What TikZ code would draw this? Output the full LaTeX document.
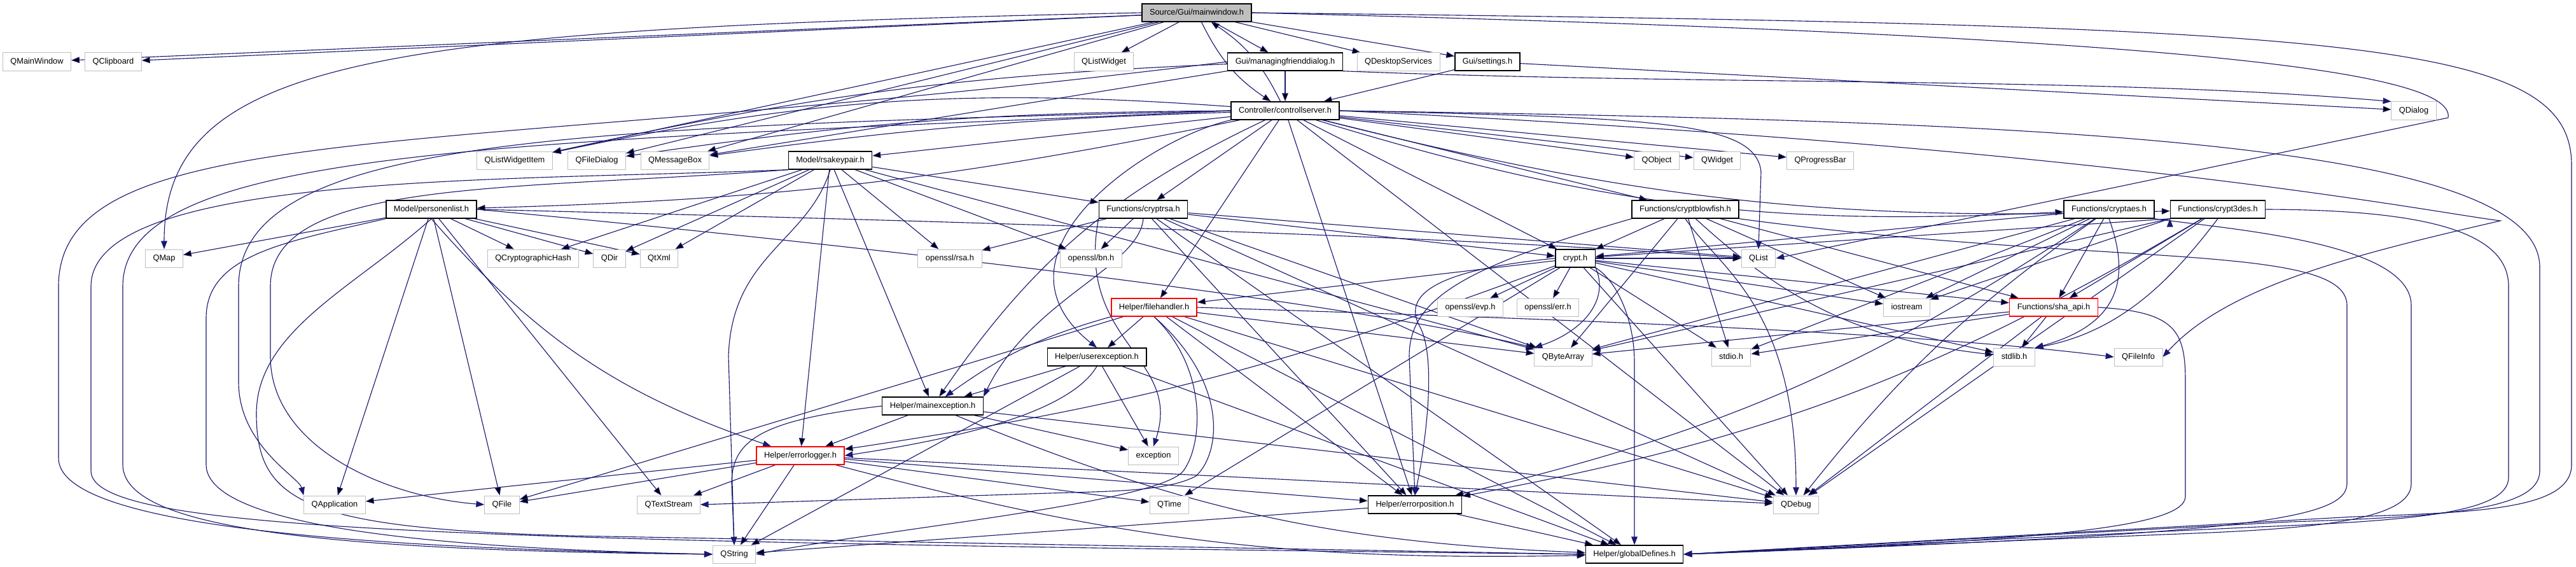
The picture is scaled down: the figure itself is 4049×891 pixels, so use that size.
\documentclass[tikz,border=0pt]{standalone}
\usepackage{fontspec}
\setmainfont{Liberation Sans}
\usepackage{xcolor}
\definecolor{edgeblue}{HTML}{191970}
\definecolor{extgrey}{HTML}{BFBFBF}
\definecolor{truncred}{HTML}{FF0000}
\usetikzlibrary{arrows.meta, backgrounds}

\begin{document}
\begin{tikzpicture}[
        x=0.025cm, y=-0.025cm,
        font=\fontsize{9.1}{11}\selectfont,
        file_node/.style={
            rectangle,
            draw=black,
            line width=1pt,
            fill=white,
            inner xsep=0.3cm,
            inner ysep=0pt,
            text height=0.24cm,
            text depth=0.07cm,
            minimum height=0.7cm
        },
        ext_node/.style={file_node, draw=extgrey, line width=0.7pt},
        trunc_node/.style={file_node, draw=truncred},
        root_node/.style={file_node, fill=extgrey},
        inc_arrow/.style={
            -{Triangle[length=0.32cm, width=0.24cm]},
            draw=edgeblue,
            line width=0.8pt
        }
    ]
    \useasboundingbox (0,0) rectangle (4049,891);

    % Root
    \node[root_node] (mainw) at (1881,20) {Source/Gui/mainwindow.h};

    % GUI level
    \node[ext_node] (qmainwin) at (58,97) {QMainWindow};
    \node[ext_node] (qclip) at (178,97) {QClipboard};
    \node[ext_node] (qlistw) at (1735,97) {QListWidget};
    \node[file_node] (friend) at (2020,97) {Gui/managingfrienddialog.h};
    \node[ext_node] (qdesk) at (2198,97) {QDesktopServices};
    \node[file_node] (settings) at (2338,97) {Gui/settings.h};
    \node[file_node] (ctrl) at (2020,174) {Controller/controllserver.h};
    \node[ext_node] (qdialog) at (3794,174) {QDialog};

    % Qt widgets and models
    \node[ext_node] (qlwitem) at (809,252) {QListWidgetItem};
    \node[ext_node] (qfiledlg) at (938,252) {QFileDialog};
    \node[ext_node] (qmsgbox) at (1061,252) {QMessageBox};
    \node[file_node] (rsakey) at (1305,252) {Model/rsakeypair.h};
    \node[ext_node] (qobject) at (2604,252) {QObject};
    \node[ext_node] (qwidget) at (2699,252) {QWidget};
    \node[ext_node] (qprogbar) at (2861,252) {QProgressBar};

    % Functions
    \node[file_node] (personen) at (678,329) {Model/personenlist.h};
    \node[file_node] (cryptrsa) at (1797,329) {Functions/cryptrsa.h};
    \node[file_node] (blowfish) at (2649,329) {Functions/cryptblowfish.h};
    \node[file_node] (cryptaes) at (3315,329) {Functions/cryptaes.h};
    \node[file_node] (crypt3des) at (3486,329) {Functions/crypt3des.h};

    \node[ext_node] (qmap) at (258,406) {QMap};
    \node[ext_node] (qcrypthash) at (838,406) {QCryptographicHash};
    \node[ext_node] (qdir) at (958,406) {QDir};
    \node[ext_node] (qtxml) at (1036,406) {QtXml};
    \node[ext_node] (rsah) at (1493,406) {openssl/rsa.h};
    \node[ext_node] (bnh) at (1715,406) {openssl/bn.h};
    \node[file_node] (crypth) at (2476,406) {crypt.h};
    \node[ext_node] (qlist) at (2764,406) {QList};

    \node[trunc_node] (filehandler) at (1814,483) {Helper/filehandler.h};
    \node[ext_node] (evph) at (2311,483) {openssl/evp.h};
    \node[ext_node] (errh) at (2433,483) {openssl/err.h};
    \node[ext_node] (iostream) at (2997,483) {iostream};
    \node[trunc_node] (shaapi) at (3228,483) {Functions/sha\_api.h};

    % Helpers
    \node[file_node] (userexc) at (1724,561) {Helper/userexception.h};
    \node[ext_node] (qbytearray) at (2457,561) {QByteArray};
    \node[ext_node] (stdioh) at (2721,561) {stdio.h};
    \node[ext_node] (stdlibh) at (3166,561) {stdlib.h};
    \node[ext_node] (qfileinfo) at (3361,561) {QFileInfo};
    \node[file_node] (mainexc) at (1466,638) {Helper/mainexception.h};
    \node[trunc_node] (errlog) at (1258,716) {Helper/errorlogger.h};
    \node[ext_node] (exception) at (1813,716) {exception};
    \node[ext_node] (qapplication) at (526,793) {QApplication};
    \node[ext_node] (qfile) at (789,793) {QFile};
    \node[ext_node] (qtextstream) at (1051,793) {QTextStream};
    \node[ext_node] (qtime) at (1838,793) {QTime};
    \node[file_node] (errpos) at (2224,793) {Helper/errorposition.h};
    \node[ext_node] (qdebug) at (2823,793) {QDebug};
    \node[ext_node] (qstring) at (1154,871) {QString};
    \node[file_node] (globaldef) at (2569,871) {Helper/globalDefines.h};

    \begin{pgfonlayer}{background}
    % mainwindow.h
    \draw[inc_arrow] (mainw) edge (qmainwin) edge (qclip) edge (qlistw) edge (friend)
        edge (qdesk) edge (settings) edge (qlwitem) edge (qfiledlg) edge (qmsgbox)
        edge[bend right=15] (ctrl);
    \draw[inc_arrow] (mainw.west) .. controls (600,45) and (258,90) .. (qmap.north);
    \draw[inc_arrow] (mainw.east) .. controls (3400,55) and (3860,110) .. (3848,185) -- (qlist.east);
    \draw[inc_arrow] (mainw.east) .. controls (3700,40) and (4042,60) .. (4042,260) -- (4042,730) .. controls (4042,800) and (3900,805) .. (3700,812) -- (globaldef.east);

    % Dialogs
    \draw[inc_arrow] (friend) edge (ctrl) edge[bend right=5] (qlwitem) edge (qmsgbox);
    \draw[inc_arrow] (friend.south east) .. controls (2700,135) and (3300,120) .. (qdialog.north west);
    \draw[inc_arrow] (friend.west) .. controls (700,250) and (92,180) .. (92,450) -- (92,720) .. controls (92,820) and (500,860) .. (qstring.west);
    \draw[inc_arrow] (settings) edge (ctrl) edge (qdialog);

    % Controller
    \draw[inc_arrow] (ctrl) edge[bend right=15] (mainw) edge[bend right=8] (qlwitem) edge[bend right=4] (qfiledlg)
        edge[bend right=3] (qmsgbox) edge (rsakey) edge[bend left=5] (personen) edge (cryptrsa) edge (blowfish)
        edge (crypth) edge[bend right=10] (cryptaes) edge[bend right=8] (crypt3des) edge (qobject)
        edge (qwidget) edge (qprogbar) edge (filehandler) edge[bend right=15] (mainexc) edge (errpos) edge (qdebug);
    \draw[inc_arrow] (ctrl.south west) .. controls (1800,220) and (1540,400) .. (userexc.north);
    \draw[inc_arrow] (ctrl.east) .. controls (2600,185) and (2760,190) .. (2768,270) -- (qlist.north);
    \draw[inc_arrow] (ctrl.east) .. controls (3300,230) and (3800,330) .. (3930,347) .. controls (3700,400) and (3500,450) .. (qfileinfo.east);
    \draw[inc_arrow] (ctrl.east) .. controls (3200,190) and (3992,220) .. (3992,420) -- (3992,740) .. controls (3992,800) and (3850,812) .. (3600,820) -- (globaldef.east);
    \draw[inc_arrow] (ctrl.west) .. controls (800,225) and (193,230) .. (193,450) -- (193,730) .. controls (193,830) and (500,865) .. (qstring.west);
    \draw[inc_arrow] (ctrl.west) .. controls (900,200) and (375,215) .. (375,450) -- (375,600) .. controls (375,700) and (470,750) .. (qapplication.north west);

    % Model layer
    \draw[inc_arrow] (rsakey) edge (qcrypthash) edge (qdir) edge (qtxml) edge (rsah) edge (bnh)
        edge (cryptrsa) edge (mainexc) edge (errlog) edge (qbytearray);
    \draw[inc_arrow] (rsakey.south) .. controls (1270,380) and (1150,400) .. (1145,560) -- (qstring.north);
    \draw[inc_arrow] (rsakey.south west) .. controls (800,285) and (143,270) .. (143,450) -- (143,740) .. controls (143,835) and (700,850) .. (globaldef.west);
    \draw[inc_arrow] (rsakey.south west) .. controls (800,300) and (425,280) .. (425,450) -- (425,560) .. controls (425,700) and (600,780) .. (qfile.west);
    \draw[inc_arrow] (personen) edge (qmap) edge (qcrypthash) edge (qdir) edge (qtxml)
        edge (qapplication) edge (qfile) edge (qtextstream);
    \draw[inc_arrow] (personen.east) .. controls (1400,345) and (2300,370) .. (qlist.west);
    \draw[inc_arrow] (personen.east) .. controls (1300,380) and (2100,470) .. (qbytearray.north west);
    \draw[inc_arrow] (personen.south) to[bend right=15] (errlog);
    \draw[inc_arrow] (personen.south west) .. controls (450,380) and (324,400) .. (324,500) -- (324,730) .. controls (324,830) and (700,862) .. (qstring.west);
    \draw[inc_arrow] (personen.south) .. controls (560,450) and (403,520) .. (403,650) .. controls (403,790) and (480,830) .. (900,842) -- (globaldef.west);

    % Crypto functions
    \draw[inc_arrow] (cryptrsa) edge (rsah) edge (bnh) edge (crypth) edge (qlist) edge (qbytearray)
        edge (qdebug) edge (errpos) edge (globaldef);
    \draw[inc_arrow] (cryptrsa.south) .. controls (1790,420) and (1620,470) .. (mainexc.north east);
    \draw[inc_arrow] (cryptrsa.south west) .. controls (1690,540) and (1860,560) .. (exception.north);
    \draw[inc_arrow] (blowfish) edge (crypth) edge (iostream) edge (stdioh) edge[bend right=18] (stdlibh)
        edge (shaapi) edge (qbytearray);
    \draw[inc_arrow] (blowfish.south) .. controls (2700,420) and (2823,480) .. (qdebug.north);
    \draw[inc_arrow] (blowfish.south west) .. controls (2300,420) and (2215,470) .. (2215,560) -- (errpos.north);
    \draw[inc_arrow] (blowfish.south east) .. controls (3300,420) and (3689,380) .. (3689,480) -- (3689,760) .. controls (3689,820) and (3500,840) .. (globaldef.east);
    \draw[inc_arrow] (cryptaes) edge (crypth) edge (iostream) edge (shaapi) edge (stdioh) edge (qbytearray)
        edge[bend right=8] (qdebug) edge[bend left=10] (errpos);
    \draw[inc_arrow] (cryptaes.south) .. controls (3350,440) and (3330,510) .. (stdlibh.north east);
    \draw[inc_arrow] (cryptaes.south east) .. controls (3500,360) and (3790,380) .. (3790,480) -- (3790,760) .. controls (3790,815) and (3650,830) .. (3450,838) -- (globaldef.east);
    \draw[inc_arrow] (crypt3des.south west) edge (crypth) edge (iostream) edge (qbytearray);
    \draw[inc_arrow] (crypt3des) edge (shaapi) edge (qdebug) edge[bend left=10] (errpos);
    \draw[inc_arrow] (crypt3des.south) .. controls (3420,430) and (3340,520) .. (stdlibh.north east);
    \draw[inc_arrow] (crypt3des.east) .. controls (3800,330) and (3943,360) .. (3943,450) -- (3943,750) .. controls (3943,805) and (3800,818) .. (3550,828) -- (globaldef.east);

    % crypt.h
    \draw[inc_arrow] (crypth) edge (evph) edge (errh) edge (stdioh) edge (stdlibh) edge (iostream)
        edge (shaapi) edge (filehandler) edge (qdebug) edge[bend left=6] (errlog) edge (qtime) edge (qlist);
    \draw[inc_arrow] (crypth.south east) .. controls (2530,470) and (2490,520) .. (qbytearray.north west);
    \draw[inc_arrow] (crypth.south east) .. controls (2540,440) and (2569,500) .. (2569,570) -- (globaldef.north);
    \draw[inc_arrow] (crypth.west) .. controls (2300,420) and (2200,450) .. (2230,510) .. controls (2260,560) and (2240,700) .. (errpos.north);
    \draw[inc_arrow] (shaapi) edge (stdlibh) edge (stdioh) edge (qbytearray) edge (qdebug);
    \draw[inc_arrow] (shaapi.east) .. controls (3420,490) and (3435,520) .. (3435,600) -- (3435,780) .. controls (3435,830) and (3200,850) .. (globaldef.east);

    % Helpers
    \draw[inc_arrow] (filehandler) edge (userexc) edge (qfile) edge (qbytearray)
        edge (qdebug) edge (errpos) edge (globaldef);
    \draw[inc_arrow] (filehandler.east) .. controls (2400,500) and (3000,520) .. (qfileinfo.west);
    \draw[inc_arrow] (filehandler.south west) to[bend right=10] (mainexc);
    \draw[inc_arrow] (filehandler.south) .. controls (1900,580) and (1890,700) .. (1860,740) .. controls (1820,790) and (1400,830) .. (qstring.east);
    \draw[inc_arrow] (filehandler.south) .. controls (1930,600) and (1920,710) .. (1880,748) .. controls (1835,772) and (1750,772) .. (1650,775) -- (qtextstream.east);
    \draw[inc_arrow] (userexc) edge (mainexc) edge (exception) edge (qstring) edge (globaldef);
    \draw[inc_arrow] (userexc.south) .. controls (1680,650) and (1500,690) .. (errlog.east);
    \draw[inc_arrow] (mainexc) edge (errlog) edge (exception) edge[bend right=10] (globaldef) edge (qdebug);
    \draw[inc_arrow] (mainexc.west) .. controls (1200,660) and (1150,690) .. (1150,760) -- (qstring.north);
    \draw[inc_arrow] (errlog) edge (qapplication) edge (qfile) edge (qtextstream) edge (qstring) edge (qtime)
        edge (errpos) edge (qdebug) edge[bend right=8] (globaldef);
    \draw[inc_arrow] (errpos) edge (globaldef) edge (qstring);
    \end{pgfonlayer}

\end{tikzpicture}
\end{document}
